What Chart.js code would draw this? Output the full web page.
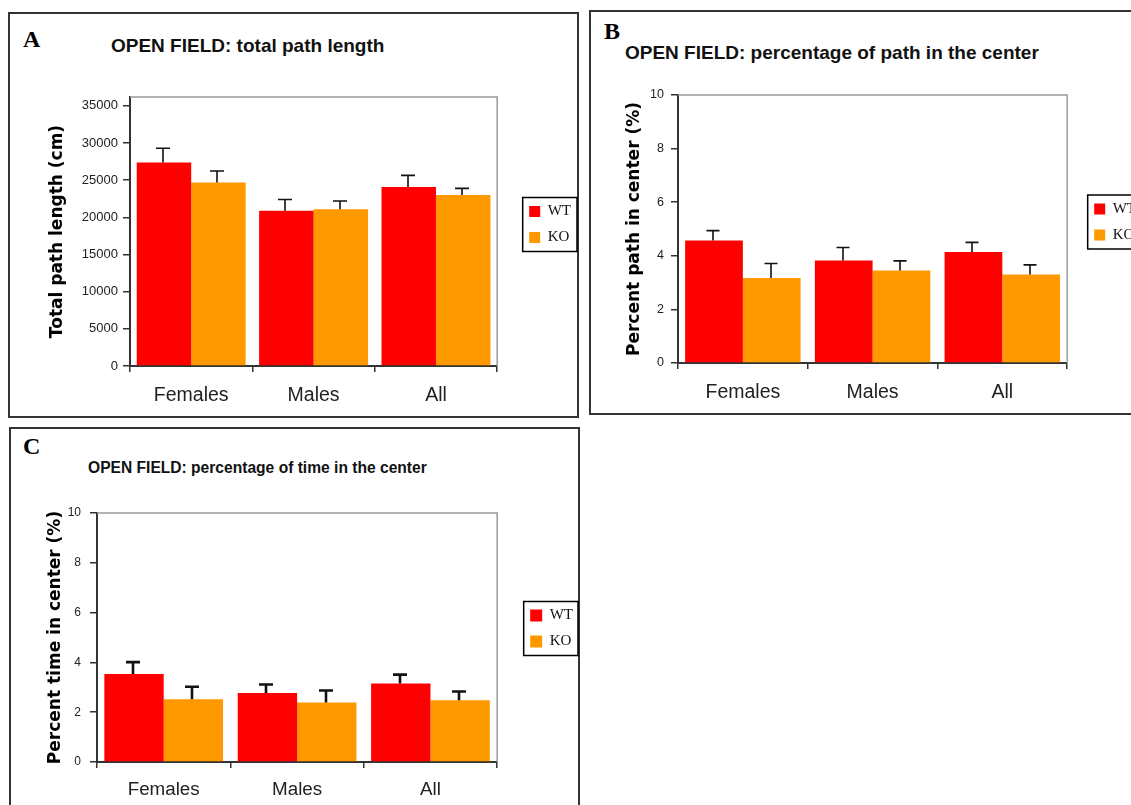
<!DOCTYPE html>
<html>
<head>
<meta charset="utf-8">
<title>Open field</title>
<script src="https://cdn.jsdelivr.net/npm/chart.js@4.4.1/dist/chart.umd.min.js"></script>
<style>
  html, body { margin: 0; padding: 0; background: #fff; }
  body { position: relative; width: 1131px; height: 805px; overflow: hidden; }
  .frame { position: absolute; border: 2px solid #333; box-sizing: border-box; }
  .letter { position: absolute; font: bold 24px "Liberation Serif", "Times New Roman", serif; line-height: 1; color: #000; }
  .title { position: absolute; font-family: "Liberation Sans", Arial, sans-serif; font-weight: bold; line-height: 1; color: #111; white-space: nowrap; }
  canvas { position: absolute; }
</style>
</head>
<body>
<div class="frame" style="left:8px;top:12px;width:571px;height:406px"></div>
<div class="frame" style="left:589px;top:10px;width:620px;height:405px"></div>
<div class="frame" style="left:9px;top:427px;width:571px;height:420px"></div>

<div class="letter" style="left:23px;top:27px">A</div>
<div class="letter" style="left:604px;top:19px">B</div>
<div class="letter" style="left:23px;top:434px">C</div>

<div class="title" style="left:111px;top:36px;font-size:19px">OPEN FIELD: total path length</div>
<div class="title" style="left:625px;top:43px;font-size:19px">OPEN FIELD: percentage of path in the center</div>
<div class="title" style="left:88px;top:460px;font-size:15.6px">OPEN FIELD: percentage of time in the center</div>

<canvas id="chartA" width="571" height="350" style="left:10px;top:60px"></canvas>
<canvas id="chartB" width="555" height="350" style="left:591px;top:60px"></canvas>
<canvas id="chartC" width="572" height="325" style="left:11px;top:480px"></canvas>

<script>
// Groups and genotypes
const categories = ['Females', 'Males', 'All'];
const seriesNames = ['WT', 'KO'];

// A: total path length (cm), mean and SEM
const pathLengthWT = [27400, 20900, 24100];
const pathLengthWTErr = [1900, 1500, 1550];
const pathLengthKO = [24700, 21100, 23000];
const pathLengthKOErr = [1550, 1100, 900];

// B: percentage of path in the center
const pathCenterWT = [4.57, 3.82, 4.14];
const pathCenterWTErr = [0.37, 0.49, 0.36];
const pathCenterKO = [3.17, 3.45, 3.30];
const pathCenterKOErr = [0.54, 0.36, 0.36];

// C: percentage of time in the center
const timeCenterWT = [3.53, 2.77, 3.15];
const timeCenterWTErr = [0.48, 0.34, 0.36];
const timeCenterKO = [2.52, 2.39, 2.48];
const timeCenterKOErr = [0.50, 0.48, 0.35];

// Axis titles and tick values
const yTitles = ['Total path length (cm)', 'Percent path in center (%)', 'Percent time in center (%)'];
const yTicksLength = [0, 5000, 10000, 15000, 20000, 25000, 30000, 35000];
const yTicksPercent = [0, 2, 4, 6, 8, 10];

const WT_COLOR = '#FF0000';
const KO_COLOR = '#FF9900';
const AXIS_COLOR = '#333333';

// One-sided (upper) error bars with a cap, read from dataset.errors
const errorBars = {
  id: 'errorBars',
  afterDatasetsDraw(chart, args, opts) {
    const ctx = chart.ctx;
    const yScale = chart.scales.y;
    ctx.save();
    ctx.strokeStyle = opts.color;
    ctx.lineWidth = opts.width;
    chart.data.datasets.forEach((ds, i) => {
      const meta = chart.getDatasetMeta(i);
      if (meta.hidden) return;
      meta.data.forEach((bar, j) => {
        const top = yScale.getPixelForValue(ds.data[j] + ds.errors[j]);
        const x = Math.round(bar.x) - 1;
        ctx.beginPath();
        ctx.moveTo(x, bar.y);
        ctx.lineTo(x, top);
        ctx.moveTo(x - opts.cap / 2, top);
        ctx.lineTo(x + opts.cap / 2, top);
        ctx.stroke();
      });
    });
    ctx.restore();
  }
};

// Grey top and right edges of the plot area
const plotFrame = {
  id: 'plotFrame',
  beforeDatasetsDraw(chart, args, opts) {
    const {ctx, chartArea: a} = chart;
    ctx.save();
    ctx.strokeStyle = opts.color;
    ctx.lineWidth = opts.width;
    ctx.beginPath();
    ctx.moveTo(a.left, a.top);
    ctx.lineTo(a.right, a.top);
    ctx.lineTo(a.right, a.bottom);
    ctx.stroke();
    ctx.restore();
  }
};

// Moves the legend off the plot edge and draws a box round it
const legendFrame = {
  id: 'legendFrame',
  afterLayout(chart, args, opts) {
    const lg = chart.legend;
    lg.left += opts.dx; lg.right += opts.dx;
    lg.top += opts.dy; lg.bottom += opts.dy;
  },
  afterDraw(chart, args, opts) {
    const boxes = chart.legend.legendHitBoxes;
    if (!boxes || !boxes.length) return;
    const first = boxes[0], last = boxes[boxes.length - 1];
    const x0 = first.left - opts.margin;
    const y0 = first.top - opts.margin;
    const y1 = last.top + last.height + opts.margin;
    const ctx = chart.ctx;
    ctx.save();
    ctx.strokeStyle = '#000';
    ctx.lineWidth = 1.5;
    ctx.strokeRect(x0, y0, opts.right - x0, y1 - y0);
    ctx.restore();
  }
};

function buildPanel(id, cfg) {
  return new Chart(document.getElementById(id), {
    type: 'bar',
    data: {
      labels: categories,
      datasets: [
        { label: seriesNames[0], data: cfg.wt, errors: cfg.wtErr, backgroundColor: WT_COLOR, borderWidth: 0 },
        { label: seriesNames[1], data: cfg.ko, errors: cfg.koErr, backgroundColor: KO_COLOR, borderWidth: 0 }
      ]
    },
    options: {
      responsive: false,
      animation: false,
      events: [],
      datasets: { bar: { barPercentage: 1, categoryPercentage: 0.89 } },
      layout: { padding: cfg.padding },
      plugins: {
        tooltip: { enabled: false },
        legend: {
          position: 'right',
          fullSize: false,
          labels: {
            boxWidth: cfg.legendBox, boxHeight: cfg.legendBox, padding: 11,
            color: '#111',
            font: { family: '"Liberation Serif", "Times New Roman", serif', size: 15 }
          }
        },
        legendFrame: { dx: cfg.legendDx, dy: cfg.legendDy, margin: 6.5, right: cfg.legendRight },
        errorBars: { color: '#111', width: cfg.errWidth, cap: cfg.errCap },
        plotFrame: { color: '#9a9a9a', width: 1.5 }
      },
      scales: {
        x: {
          grid: { offset: true, drawOnChartArea: false, drawTicks: true, tickLength: 6, color: AXIS_COLOR, lineWidth: 1.5 },
          border: { display: true, color: AXIS_COLOR, width: 2 },
          ticks: { color: '#222', padding: cfg.xPad, font: { family: '"Liberation Sans", Arial, sans-serif', size: cfg.xFont } },
          afterFit(scale) { scale.height = cfg.xHeight; }
        },
        y: {
          min: 0,
          max: cfg.yMax,
          grid: { drawOnChartArea: false, drawTicks: true, tickLength: 7, color: AXIS_COLOR, lineWidth: 1.5 },
          border: { display: true, color: AXIS_COLOR, width: 2 },
          ticks: {
            color: '#222', padding: cfg.yTickPad,
            font: { family: '"Liberation Sans", Arial, sans-serif', size: cfg.yFont },
            callback: (value) => String(value)
          },
          afterBuildTicks(scale) { scale.ticks = cfg.yTicks.map(v => ({ value: v })); },
          title: {
            display: true, text: cfg.yTitle, color: '#000',
            padding: { top: cfg.yTitlePad, bottom: 0 },
            font: { family: '"DejaVu Sans", Verdana, sans-serif', weight: 'bold', size: 17 }
          },
          afterFit(scale) { scale.width = cfg.yWidth; }
        }
      }
    },
    plugins: [plotFrame, errorBars, legendFrame]
  });
}

buildPanel('chartA', {
  wt: pathLengthWT, wtErr: pathLengthWTErr, ko: pathLengthKO, koErr: pathLengthKOErr,
  yMax: 36200, yTicks: yTicksLength, yTitle: yTitles[0],
  padding: { left: 28, top: 37, right: 21, bottom: 0 },
  yWidth: 92, yTitlePad: 9, yTickPad: 5, yFont: 13,
  xHeight: 44, xPad: 12, xFont: 19.5,
  legendBox: 11, legendDx: 21, legendDy: -7, legendRight: 567,
  errWidth: 1.6, errCap: 14
});

buildPanel('chartB', {
  wt: pathCenterWT, wtErr: pathCenterWTErr, ko: pathCenterKO, koErr: pathCenterKOErr,
  yMax: 10, yTicks: yTicksPercent, yTitle: yTitles[1],
  padding: { left: 24, top: 35, right: 16, bottom: 0 },
  yWidth: 63, yTitlePad: 9, yTickPad: 7, yFont: 12.5,
  xHeight: 47, xPad: 12, xFont: 19.5,
  legendBox: 11, legendDx: 16, legendDy: -7, legendRight: 620,
  errWidth: 1.6, errCap: 13
});

buildPanel('chartC', {
  wt: timeCenterWT, wtErr: timeCenterWTErr, ko: timeCenterKO, koErr: timeCenterKOErr,
  yMax: 10, yTicks: yTicksPercent, yTitle: yTitles[2],
  padding: { left: 25, top: 33, right: 22, bottom: 0 },
  yWidth: 61, yTitlePad: 9, yTickPad: 9, yFont: 12,
  xHeight: 43, xPad: 11, xFont: 18.8,
  legendBox: 12, legendDx: 22, legendDy: -9, legendRight: 567,
  errWidth: 2.6, errCap: 14
});
</script>
</body>
</html>
